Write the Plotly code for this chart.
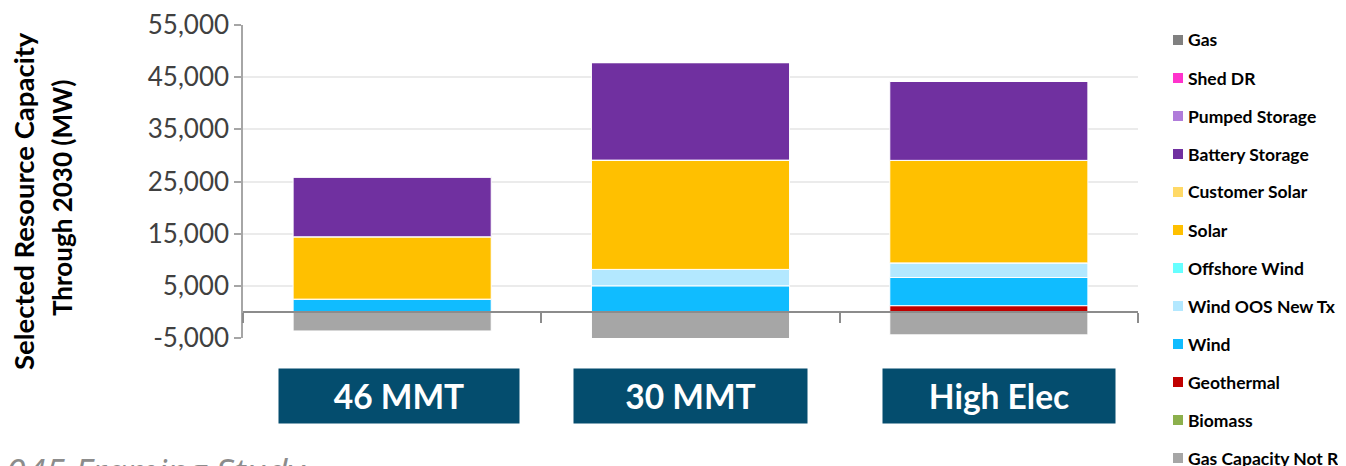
import plotly.graph_objects as go

# ---- data ----
categories = ["46 MMT", "30 MMT", "High Elec"]

# stacking order bottom -> top (legend shows reversed)
series_names = [
    "Gas Capacity Not Retained", "Biomass", "Geothermal", "Wind", "Wind OOS New Tx",
    "Offshore Wind", "Solar", "Customer Solar", "Battery Storage", "Pumped Storage",
    "Shed DR", "Gas",
]
series_colors = [
    "#A6A6A6", "#8CB04C", "#C00000", "#10BCFF", "#B3E8FF",
    "#66FFFF", "#FFC000", "#FFD966", "#7030A0", "#B07CDA",
    "#FF33CC", "#808080",
]
gas_not_retained = [-3650, -5150, -4400]
biomass = [0, 0, 0]
geothermal = [0, 0, 1200]
wind = [2450, 5000, 5400]
wind_oos_new_tx = [0, 3150, 2800]
offshore_wind = [0, 0, 0]
solar = [11950, 20950, 19650]
customer_solar = [0, 0, 0]
battery_storage = [11500, 18700, 15200]
pumped_storage = [0, 0, 0]
shed_dr = [0, 0, 0]
gas = [0, 0, 0]
series_values = [
    gas_not_retained, biomass, geothermal, wind, wind_oos_new_tx, offshore_wind,
    solar, customer_solar, battery_storage, pumped_storage, shed_dr, gas,
]

y_tickvals = [-5000, 5000, 15000, 25000, 35000, 45000, 55000]
y_ticktext = ["-5,000", "5,000", "15,000", "25,000", "35,000", "45,000", "55,000"]

# ---- layout helpers (page pixel geometry; page body has an 8px margin) ----
OFF = 8
PAGE_W, PAGE_H = 1346, 466
W, H = PAGE_W - OFF, PAGE_H - OFF
PL, PR, PT, PB = 243, 1138, 25, 338          # plot area in page pixels
ML, MR, MT, MB = PL - OFF, PAGE_W - PR, PT - OFF, PAGE_H - PB
PW, PH = PR - PL, PB - PT


def px(xp):
    return (xp - PL) / PW


def py(yp):
    return (PB - yp) / PH


fig = go.Figure()
for name, color, vals in zip(series_names, series_colors, series_values):
    fig.add_trace(go.Bar(
        x=categories, y=vals, name=name, showlegend=False,
        marker=dict(color=color, line=dict(color="white", width=1)),
    ))

FONT = "Lato"
annotations = []
shapes = []

# y-axis title (two lines)
annotations.append(dict(text="<b>Selected Resource Capacity</b>", textangle=-90,
                        xref="paper", yref="paper", x=px(23), y=py(201),
                        xanchor="center", yanchor="middle", showarrow=False,
                        font=dict(family=FONT, size=27.5, color="#000000")))
annotations.append(dict(text="<b>Through 2030 (MW)</b>", textangle=-90,
                        xref="paper", yref="paper", x=px(62), y=py(198),
                        xanchor="center", yanchor="middle", showarrow=False,
                        font=dict(family=FONT, size=26, color="#000000")))

# category boxes
box_w = [240, 233, 232]
box_shift = [7, 0, 10]
for cat, bw, sh in zip(categories, box_w, box_shift):
    annotations.append(dict(text="<b>%s</b>" % cat, xref="x", yref="paper",
                            x=cat, y=py(396), xshift=sh, xanchor="center", yanchor="middle",
                            width=bw, height=54, borderpad=0, bgcolor="#044D6E",
                            showarrow=False,
                            font=dict(family=FONT, size=33.5, color="#FFFFFF")))

# manual legend (reversed order)
for i, (name, color) in enumerate(zip(series_names[::-1], series_colors[::-1])):
    yc = 40 + 38 * i
    shapes.append(dict(type="rect", xref="paper", yref="paper",
                       x0=px(1173), x1=px(1183), y0=py(yc + 5), y1=py(yc - 5),
                       fillcolor=color, line=dict(width=0)))
    annotations.append(dict(text="<b>%s</b>" % name, xref="paper", yref="paper",
                            x=px(1186), y=py(yc), xanchor="left", yanchor="middle",
                            showarrow=False,
                            font=dict(family=FONT, size=17.5, color="#000000")))

# footer text (partly cut off at the page edge, as in the source slide)
annotations.append(dict(text="<i>2045 Framing Study</i>", xref="paper", yref="paper",
                        x=px(-16), y=py(445), xanchor="left", yanchor="top",
                        showarrow=False,
                        font=dict(family="Open Sans", size=36, color="#8C8C8C")))

fig.update_layout(
    width=W, height=H,
    margin=dict(l=ML, r=MR, t=MT, b=MB, autoexpand=False),
    plot_bgcolor="white", paper_bgcolor="white",
    barmode="relative", bargap=0.336,
    showlegend=False,
    annotations=annotations, shapes=shapes,
    xaxis=dict(type="category", anchor="free", position=5000 / 60000, automargin=False,
               showline=True, linecolor="#8C8C8C", linewidth=1.5,
               ticks="outside", tickson="boundaries", ticklen=10, tickcolor="#8C8C8C",
               tickwidth=1.5, showticklabels=False, showgrid=False, zeroline=False),
    yaxis=dict(range=[-5000, 55000], tickvals=y_tickvals, ticktext=y_ticktext,
               automargin=False,
               showline=True, linecolor="#A6A6A6", linewidth=1.5,
               ticks="outside", ticklen=7, tickcolor="#A6A6A6", tickwidth=1.5,
               showgrid=True, gridcolor="#EBEBEB", gridwidth=1.5, zeroline=False,
               tickfont=dict(family=FONT, size=26, color="#404040")),
)

fig.write_html("out.html")
